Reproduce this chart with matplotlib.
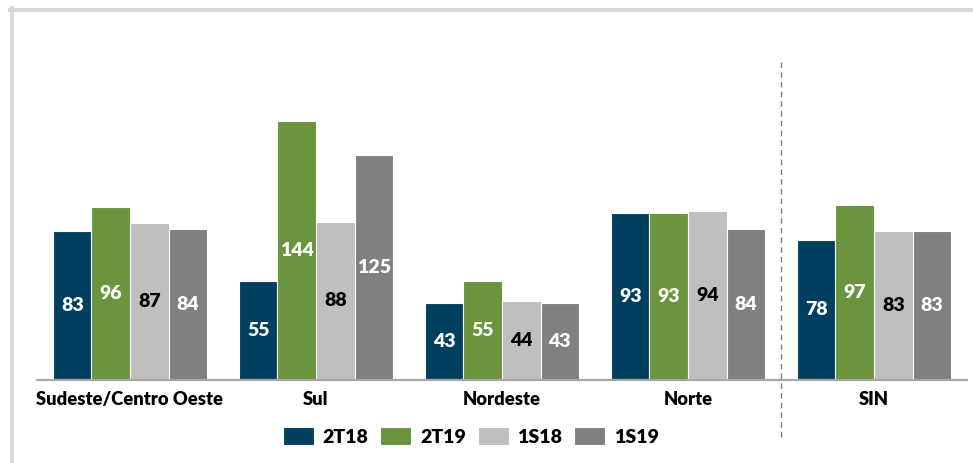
import matplotlib
matplotlib.use("Agg")
import matplotlib.pyplot as plt
import numpy as np
from matplotlib.lines import Line2D

plt.rcParams['font.family'] = ['Lato', 'DejaVu Sans']
plt.rcParams['font.weight'] = 'bold'

categories = ["Sudeste/Centro Oeste", "Sul", "Nordeste", "Norte", "SIN"]
series_names = ["2T18", "2T19", "1S18", "1S19"]
v_2T18 = [83, 55, 43, 93, 78]
v_2T19 = [96, 144, 55, 93, 97]
v_1S18 = [87, 88, 44, 94, 83]
v_1S19 = [84, 125, 43, 84, 83]
series_values = [v_2T18, v_2T19, v_1S18, v_1S19]

colors = ["#013F5E", "#6A943D", "#BFBFBF", "#808080"]
label_colors = ["white", "white", "black", "white"]

W, H = 973, 463
fig = plt.figure(figsize=(W / 100, H / 100), dpi=100)
ax_left, ax_right = 37 / W, 967 / W
ax_bottom, ax_top = (H - 380) / H, (H - 92) / H
ax = fig.add_axes([ax_left, ax_bottom, ax_right - ax_left, ax_top - ax_bottom])

x = np.arange(len(categories))
bw = 0.207
offsets = [-1.5 * bw, -0.5 * bw, 0.5 * bw, 1.5 * bw]
for i, (name, vals) in enumerate(zip(series_names, series_values)):
    bars = ax.bar(x + offsets[i], vals, width=bw, color=colors[i],
                  edgecolor="white", linewidth=0.8, label=name, zorder=2)
    for b, v in zip(bars, vals):
        ax.text(b.get_x() + b.get_width() / 2, v / 2, f"{v}",
                ha="center", va="center", color=label_colors[i],
                fontsize=14, fontweight="heavy", zorder=3)

ax.set_xlim(-0.5, len(categories) - 0.5)
ax.set_ylim(0, 160)
ax.set_yticks([])
ax.set_xticks(x)
ax.set_xticklabels(categories, fontsize=13.2, fontweight="heavy")
ax.tick_params(axis="x", length=0, pad=8)
for s in ["top", "right", "left"]:
    ax.spines[s].set_visible(False)
ax.spines["bottom"].set_color("#A6A6A6")
ax.spines["bottom"].set_linewidth(1.6)
ax.spines["bottom"].set_zorder(4)

# dashed divider between regions and SIN
ax.axvline(len(categories) - 1.5, ymin=-0.198, ymax=1.104, color="#7F7F7F",
           linestyle=(0, (4, 3)), linewidth=1.0, clip_on=False, zorder=1)

leg = fig.legend(loc="center", bbox_to_anchor=(0.484, 0.058), ncol=4,
                 frameon=False, prop={"size": 14, "weight": "heavy"},
                 handlelength=1.6, handleheight=1.08, handletextpad=0.45,
                 columnspacing=0.6)

# light grey frame (left and top)
fc = "#D9D9D9"
fig.add_artist(Line2D([11.5 / W, 11.5 / W], [0, 1 - 8 / H], color=fc,
                      linewidth=2.9, transform=fig.transFigure))
fig.add_artist(Line2D([10 / W, 1], [1 - 10 / H, 1 - 10 / H], color=fc,
                      linewidth=2.9, transform=fig.transFigure))

fig.savefig("out.png", dpi=100, facecolor="white")
